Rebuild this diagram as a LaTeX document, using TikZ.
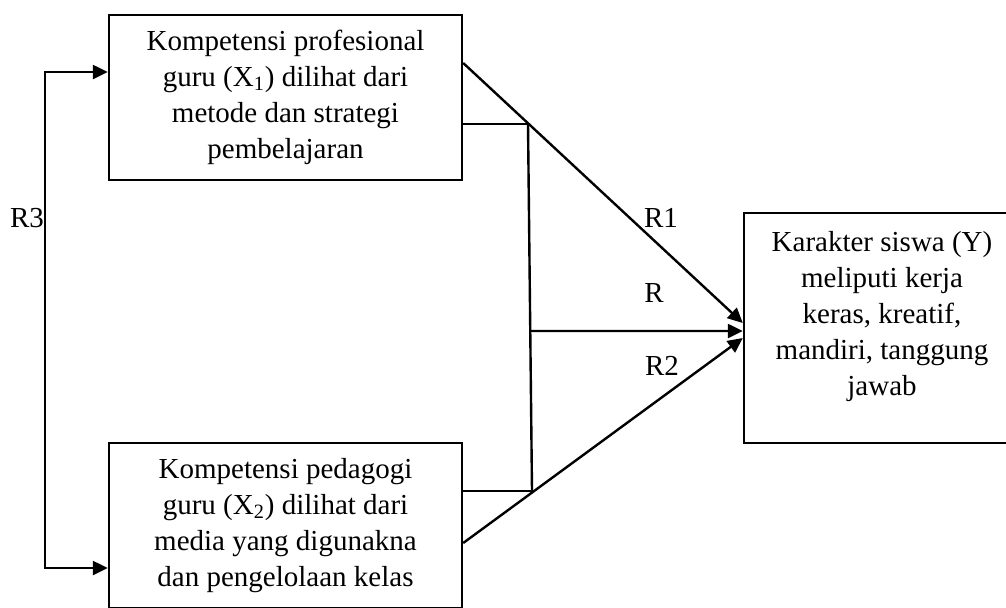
\documentclass[tikz,border=0pt]{standalone}
\usepackage{fontspec}
\setmainfont{Liberation Serif}
\usetikzlibrary{arrows.meta,calc,positioning}
\tikzset{box/.style={draw,
    line width=1.2pt,
    rectangle,
    inner sep=0pt,
    align=center
  },
  conn/.style={line width=1.2pt},
  arr/.style={line width=1.2pt, -{Triangle[length=7.5pt,width=7pt]}},
  arrs/.style={line width=1.2pt, {Triangle[length=7.5pt,width=7pt]}-{Triangle[length=7.5pt,width=7pt]}},
  lbl/.style={inner sep=0pt}
}

\begin{document}
\begin{tikzpicture}[x=0.5pt, y=-0.5pt, font=\fontsize{14.5}{18}\selectfont]
    \useasboundingbox (0,0) rectangle (1006,607);
    \clip (0,0) rectangle (1006,607);
    % boxes
    \node[box, minimum width=176.5pt, minimum height=82.5pt] (x1) at (285.5,97.5)
        {Kompetensi profesional\\ guru (X\textsubscript{1}) dilihat dari\\ metode dan strategi\\ pembelajaran};
    \node[box, minimum width=176.5pt, minimum height=82.5pt] (x2) at (285.5,525.5)
        {Kompetensi pedagogi\\ guru (X\textsubscript{2}) dilihat dari\\ media yang digunakna\\ dan pengelolaan kelas};
    \node[box, minimum width=138pt, minimum height=115pt] (y) at (882,328) {};
    \node[lbl, align=center, below=9.5pt of y.north] (ytext)
        {Karakter siswa (Y)\\ meliputi kerja\\ keras, kreatif,\\ mandiri, tanggung\\ jawab};
    % junction points
    \coordinate (j1) at (528,124);
    \coordinate (j2) at (532,491);
    \coordinate (c1) at (45,72);
    \coordinate (c2) at (45,568);
    % connectors
    \draw[arr] ([yshift=17.25pt]x1.east) -- ([yshift=2.5pt]y.west);
    \draw[arr] ([yshift=-8.75pt]x2.east) -- ([yshift=-5pt]y.west);
    \draw[conn] ([yshift=-13.25pt]x1.east) -- (j1);
    \draw[conn] ([yshift=17.25pt]x2.east) -- (j2);
    \draw[conn] (j1) -- (j2);
    \draw[arr] ($(j1)!0.564!(j2)$) -- ([yshift=-1.5pt]y.west);
    \draw[arrs] ([yshift=12.75pt]x1.west) -- (c1) -- (c2) -- ([yshift=-21.25pt]x2.west);
    % labels
    \node[lbl] (r1) at (661,218) {R1};
    \node[lbl] (r) at (654,293) {R};
    \node[lbl] (r2) at (662,366) {R2};
    \node[lbl] (r3) at (27,218) {R3};
\end{tikzpicture}
\end{document}
